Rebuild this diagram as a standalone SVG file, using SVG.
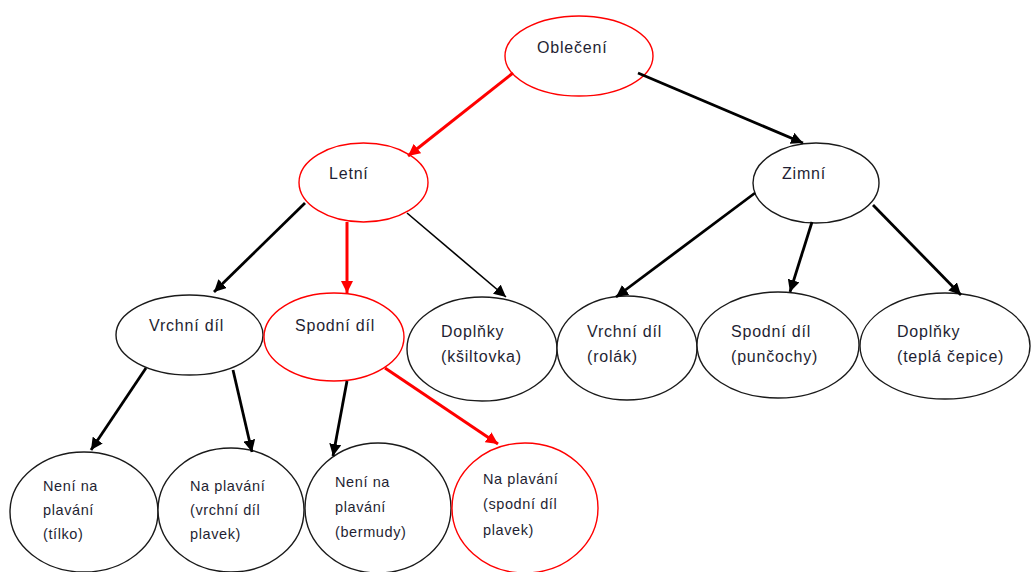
<svg xmlns="http://www.w3.org/2000/svg" width="1033" height="572" viewBox="0 0 1033 572">
<style>
.n{fill:#fff;stroke:#1a1a1a;stroke-width:1.4}
.r{fill:#fff;stroke:#ff0000;stroke-width:1.4}
text{font-family:"Liberation Sans",Arial,sans-serif;font-size:16px;fill:#1f1f33;letter-spacing:0.8px}
.s{font-size:14.5px;letter-spacing:0.6px}
.k{stroke:#000;stroke-width:2.8;fill:none}
.kt{stroke:#000;stroke-width:1.6;fill:none}
.re{stroke:#ff0000;stroke-width:3;fill:none}
</style>
<defs>
<marker id="ak" markerUnits="userSpaceOnUse" markerWidth="14" markerHeight="12" refX="12" refY="6" orient="auto"><path d="M0,0 L12,6 L0,12 z" fill="#000"/></marker>
<marker id="ar" markerUnits="userSpaceOnUse" markerWidth="14" markerHeight="12" refX="12" refY="6" orient="auto"><path d="M0,0 L12,6 L0,12 z" fill="#ff0000"/></marker>
</defs>
<rect width="1033" height="572" fill="#fff"/>
<g id="n-obleceni"><ellipse class="r" cx="579" cy="56" rx="74" ry="40"/><text x="537" y="53">Oblečení</text></g>
<g id="n-letni"><ellipse class="r" cx="363.5" cy="182.5" rx="64.5" ry="39.5"/><text x="329" y="179">Letní</text></g>
<g id="n-zimni"><ellipse class="n" cx="816" cy="183" rx="63" ry="40"/><text x="782" y="179">Zimní</text></g>
<g id="n-vrchni1"><ellipse class="n" cx="189.5" cy="335" rx="73.5" ry="40"/><text x="149" y="331">Vrchní díl</text></g>
<g id="n-spodni1"><ellipse class="r" cx="334" cy="337" rx="70" ry="44"/><text x="295" y="331">Spodní díl</text></g>
<g id="n-doplnky1"><ellipse class="n" cx="482" cy="349" rx="75" ry="52"/><text x="441" y="337">Doplňky</text><text x="441" y="362">(kšiltovka)</text></g>
<g id="n-vrchni2"><ellipse class="n" cx="627" cy="348" rx="70" ry="52"/><text x="587" y="337">Vrchní díl</text><text x="587" y="362">(rolák)</text></g>
<g id="n-spodni2"><ellipse class="n" cx="778" cy="345" rx="81" ry="53"/><text x="731" y="337">Spodní díl</text><text x="731" y="362">(punčochy)</text></g>
<g id="n-doplnky2"><ellipse class="n" cx="945" cy="346" rx="85" ry="53"/><text x="897" y="337">Doplňky</text><text x="897" y="362">(teplá čepice)</text></g>
<g id="n-tilko"><ellipse class="n" cx="84" cy="512" rx="74" ry="60"/><text class="s" x="43" y="491">Není na</text><text class="s" x="43" y="515">plavání</text><text class="s" x="43" y="539">(tílko)</text></g>
<g id="n-vrchniplavek"><ellipse class="n" cx="231" cy="510" rx="73" ry="62"/><text class="s" x="190" y="491">Na plavání</text><text class="s" x="190" y="515">(vrchní díl</text><text class="s" x="190" y="539">plavek)</text></g>
<g id="n-bermudy"><ellipse class="n" cx="378" cy="508" rx="73" ry="65"/><text class="s" x="335" y="487">Není na</text><text class="s" x="335" y="512">plavání</text><text class="s" x="335" y="537">(bermudy)</text></g>
<g id="n-spodniplavek"><ellipse class="r" cx="525" cy="508" rx="73" ry="65"/><text class="s" x="483" y="484">Na plavání</text><text class="s" x="483" y="509">(spodní díl</text><text class="s" x="483" y="535">plavek)</text></g>
<g id="connectors">
<line class="re" x1="513" y1="73" x2="408" y2="156" marker-end="url(#ar)"/>
<line class="k" x1="638" y1="73" x2="803" y2="143" marker-end="url(#ak)"/>
<line class="k" x1="305" y1="203" x2="214" y2="292" marker-end="url(#ak)"/>
<line class="re" x1="347" y1="222" x2="347" y2="293" marker-end="url(#ar)"/>
<line class="kt" x1="407" y1="213" x2="506" y2="297" marker-end="url(#ak)"/>
<line class="k" x1="755" y1="193" x2="616" y2="297" marker-end="url(#ak)"/>
<line class="k" x1="812" y1="222" x2="790" y2="292" marker-end="url(#ak)"/>
<line class="k" x1="873" y1="205" x2="961" y2="295" marker-end="url(#ak)"/>
<line class="k" x1="146" y1="368" x2="91" y2="450" marker-end="url(#ak)"/>
<line class="k" x1="233" y1="370" x2="252" y2="452" marker-end="url(#ak)"/>
<line class="k" x1="347" y1="381" x2="333" y2="456" marker-end="url(#ak)"/>
<line class="re" x1="385" y1="368" x2="498" y2="444" marker-end="url(#ar)"/>
</g>
</svg>
